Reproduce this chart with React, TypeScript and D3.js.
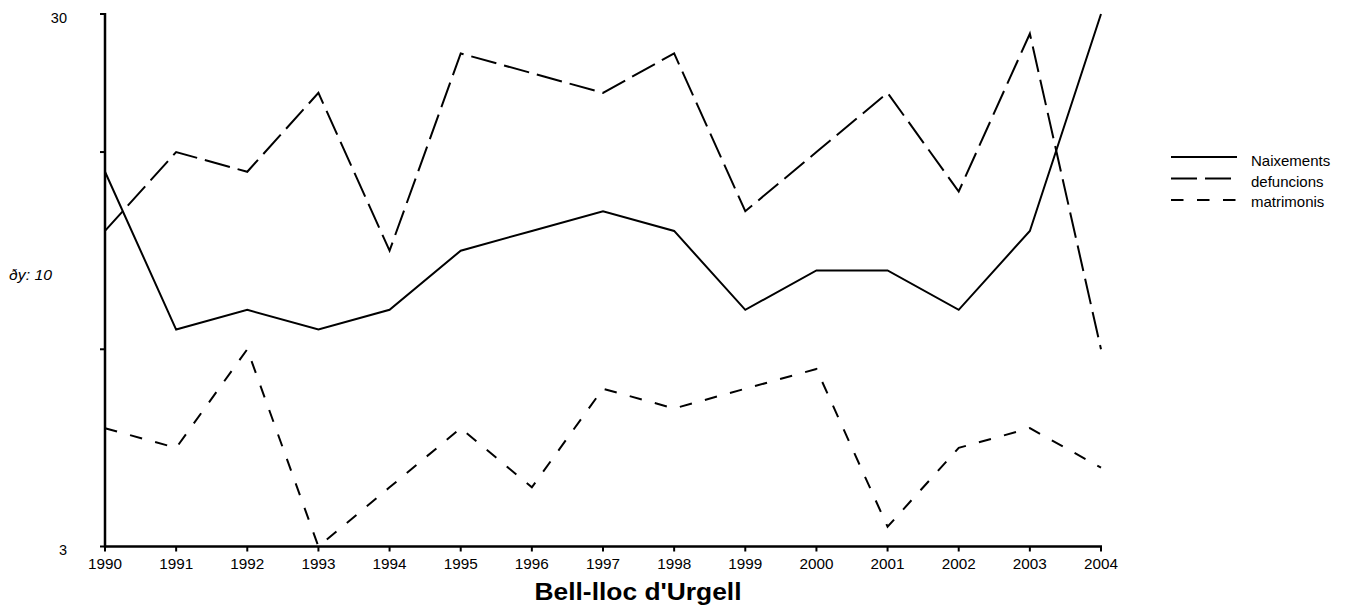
import React from "react";
import * as d3 from "d3";

const years = [1990, 1991, 1992, 1993, 1994, 1995, 1996, 1997, 1998, 1999, 2000, 2001, 2002, 2003, 2004];
const naixements = [22, 14, 15, 14, 15, 18, 19, 20, 19, 15, 17, 17, 15, 19, 30];
const defuncions = [19, 23, 22, 26, 18, 28, 27, 26, 28, 20, 23, 26, 21, 29, 13];
const matrimonis = [9, 8, 13, 3, 6, 9, 6, 11, 10, 11, 12, 4, 8, 9, 7];
const yTicks = [3, 13, 23, 30];
const yLabels = [3, 30];
const seriesNames = ["Naixements", "defuncions", "matrimonis"];
const title = "Bell-lloc d'Urgell";
const intervalLabel = "ðy: 10";

const dashes = [null, "26,8", "12.5,13.5"];

export default function App() {
  const W = 1351, H = 610;
  const x = d3.scaleLinear().domain([1990, 2004]).range([105, 1101]);
  const y = d3.scaleLinear().domain([3, 30]).range([546.5, 14]);
  const line = d3.line<number>().x((_, i) => x(years[i])).y((v) => y(v));
  const series = [naixements, defuncions, matrimonis];
  const font = "'Liberation Sans', Arial, sans-serif";
  return (
    <svg width={W} height={H} style={{ position: "absolute", left: 0, top: 0, background: "#fff" }}>
      <rect width={W} height={H} fill="#fff" />
      {series.map((s, i) => (
        <path key={i} d={line(s) || ""} fill="none" stroke="#000" strokeWidth={2}
          strokeDasharray={dashes[i] || undefined} strokeLinejoin="miter" />
      ))}
      {/* axes */}
      <line x1={x(1990)} x2={x(1990)} y1={y(30) - 1} y2={y(3) + 1} stroke="#000" strokeWidth={2.5} />
      <line x1={x(1990) - 1} x2={x(2004) + 1} y1={y(3)} y2={y(3)} stroke="#000" strokeWidth={2.5} />
      {yTicks.map((t) => (
        <line key={t} x1={x(1990) - 5} x2={x(1990)} y1={y(t)} y2={y(t)} stroke="#000" strokeWidth={2} />
      ))}
      {years.map((yr) => (
        <line key={yr} x1={x(yr)} x2={x(yr)} y1={y(3)} y2={y(3) + 5} stroke="#000" strokeWidth={2} />
      ))}
      {yLabels.map((t) => (
        <text key={t} x={67} y={y(t) + 8.5} textAnchor="end" fontFamily={font} fontSize={14.5}>{t}</text>
      ))}
      <text x={9} y={280} fontFamily={font} fontSize={14} fontStyle="italic" textLength={43} lengthAdjust="spacingAndGlyphs">{intervalLabel}</text>
      {years.map((yr) => (
        <text key={yr} x={x(yr)} y={569} textAnchor="middle" fontFamily={font} fontSize={14}
          textLength={34} lengthAdjust="spacingAndGlyphs">{yr}</text>
      ))}
      <text x={638} y={600} textAnchor="middle" fontFamily={font} fontSize={23} fontWeight="bold"
        textLength={207} lengthAdjust="spacingAndGlyphs">{title}</text>
      {seriesNames.map((n, i) => (
        <g key={n}>
          <line x1={1171} x2={1237} y1={157 + i * 21.5} y2={157 + i * 21.5} stroke="#000" strokeWidth={2}
            strokeDasharray={dashes[i] || undefined} />
          <text x={1251} y={166 + i * 20.5} fontFamily={font} fontSize={15}>{n}</text>
        </g>
      ))}
    </svg>
  );
}
